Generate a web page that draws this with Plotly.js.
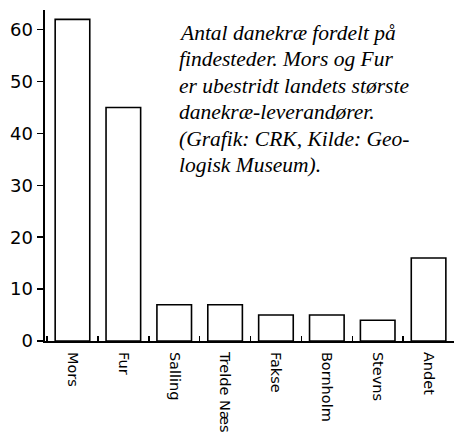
<!DOCTYPE html>
<html>
<head>
<meta charset="utf-8">
<script src="https://cdn.plot.ly/plotly-3.0.1.min.js"></script>
<style>html,body{margin:0;padding:0;background:#fff;}#chart{width:454px;height:434px;}</style>
</head>
<body>
<div id="chart"></div>
<script>
const categories = ["Mors", "Fur", "Salling", "Trelde Næs", "Fakse", "Bornholm", "Stevns", "Andet"];
const counts = [62, 45, 7, 7, 5, 5, 4, 16];
const captionLines = [
  "Antal danekræ fordelt på",
  "findesteder. Mors og Fur",
  "er ubestridt landets største",
  "danekræ-leverandører.",
  "(Grafik: CRK, Kilde: Geo-",
  "logisk Museum)."
];

const trace = {
  type: "bar",
  x: categories,
  y: counts,
  marker: {color: "#ffffff", line: {color: "#000000", width: 1.6}},
  width: 0.68,
  hoverinfo: "skip"
};

const annotations = captionLines.map((t, i) => ({
  text: t,
  xref: "paper", yref: "paper",
  x: 0.322, y: 0.974 - i * 0.0802,
  xanchor: "left", yanchor: "top",
  showarrow: false,
  align: "left",
  font: {family: "Liberation Serif", size: 21.5, color: "#000", style: "italic"}
}));

const layout = {
  width: 454, height: 434,
  margin: {l: 45, r: 0, t: 10, b: 93},
  paper_bgcolor: "#fff", plot_bgcolor: "#fff",
  showlegend: false,
  xaxis: {
    type: "category",
    range: [-0.54, 7.5],
    showline: true, linecolor: "#000", linewidth: 2,
    ticks: "inside", ticklen: 5, tickwidth: 1.5, tickcolor: "#000",
    tickson: "boundaries",
    tickangle: 90,
    ticklabelstandoff: 6,
    tickfont: {family: "DejaVu Sans", size: 14.5, color: "#000"},
    showgrid: false, zeroline: false, fixedrange: true
  },
  yaxis: {
    range: [0, 63.8],
    tickvals: [0, 10, 20, 30, 40, 50, 60],
    showline: true, linecolor: "#000", linewidth: 2.5,
    ticks: "outside", ticklen: 6, tickwidth: 1.5, tickcolor: "#000",
    tickfont: {family: "DejaVu Sans", size: 18, color: "#000"},
    showgrid: false, zeroline: false, fixedrange: true
  },
  annotations: annotations
};

Plotly.newPlot("chart", [trace], layout, {displayModeBar: false, staticPlot: true});
</script>
</body>
</html>
